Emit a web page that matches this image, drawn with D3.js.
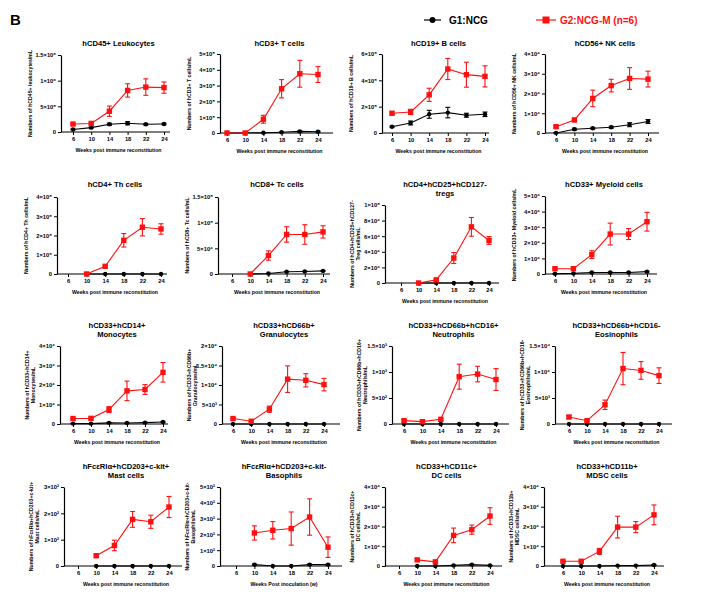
<!DOCTYPE html>
<html>
<head>
<meta charset="utf-8">
<script src="https://cdn.jsdelivr.net/npm/d3@7"></script>
<style>
  body { margin: 0; background: #fff; }
  text { font-family: "Liberation Sans", Arial, sans-serif; }
</style>
</head>
<body>
<div id="chart"></div>
<script>
var weeks = [6, 10, 14, 18, 22, 24];

var titles = [
  ["hCD45+ Leukocytes"], ["hCD3+ T cells"], ["hCD19+ B cells"], ["hCD56+ NK cells"],
  ["hCD4+ Th cells"], ["hCD8+ Tc cells"], ["hCD4+hCD25+hCD127-", "tregs"], ["hCD33+ Myeloid cells"],
  ["hCD33+hCD14+", "Monocytes"], ["hCD33+hCD66b+", "Granulocytes"], ["hCD33+hCD66b+hCD16+", "Neutrophils"], ["hCD33+hCD66b+hCD16-", "Eosinophils"],
  ["hFcεRIα+hCD203+c-kit+", "Mast cells"], ["hFcεRIα+hCD203+c-kit-", "Basophils"], ["hCD33+hCD11c+", "DC cells"], ["hCD33+hCD11b+", "MDSC cells"]
];

var yTitles = [
  ["Numbers of hCD45+ leukocytes/mL"], ["Numbers of hCD3+ T cells/mL"], ["Numbers of hCD19+ B cells/mL"], ["Numbers of hCD56+ NK cells/mL"],
  ["Numbers of hCD4+ Th cells/mL"], ["Numbers of hCD8+ Tc cells/mL"], ["Numbers of hCD4+hCD25+hCD127-", "Treg cells/mL"], ["Numbers of hCD33+ Myeloid cells/mL"],
  ["Numbers of hCD33+hCD14+", "Monocytes/mL"], ["Numbers of hCD33+hCD66b+", "Granulocytes/mL"], ["Numbers of hCD33+hCD66b+hCD16+", "Neutrophils/mL"], ["Numbers of hCD33+hCD66b+hCD16-", "Eosinophils/mL"],
  ["Numbers of hFcεRIα+hCD203+c-kit+", "Mast cells/mL"], ["Numbers of hFcεRIα+hCD203+c-kit-", "Basophils/mL"], ["Numbers of hCD33+hCD11c+", "DC cells/mL"], ["Numbers of hCD33+hCD11b+", "MDSC cells/mL"]
];

var xTitles = [
  "Weeks post immune reconstitution", "Weeks post immune reconstitution", "Weeks post immune reconstitution", "Weeks post immune reconstitution",
  "Weeks post immune reconstitution", "Weeks post immune reconstitution", "Weeks post immune reconstitution", "Weeks post immune reconstitution",
  "Weeks post immune reconstitution", "Weeks post immune reconstitution", "Weeks post immune reconstitution", "Weeks post immune reconstitution",
  "Weeks post immune reconstitution", "Weeks Post inoculation (w)", "Weeks post immune reconstitution", "Weeks post immune reconstitution"
];

var yMax  = [1.5e6, 5e5, 6e5, 4e4, 4e5, 1.5e5, 1e5, 5e4, 4e4, 2e4, 1.5e3, 1.5e4, 3e2, 5e2, 4e4, 4e4];
var yStep = [5e5, 1e5, 2e5, 1e4, 1e5, 5e4, 2e4, 1e4, 1e4, 5e3, 5e2, 5e3, 1e2, 1e2, 1e4, 1e4];

// G1:NCG (black)
var g1Mean = [
  [5e4, 8.5e4, 1.5e5, 1.7e5, 1.5e5, 1.55e5],
  [0, 0, 2e3, 5e3, 1e4, 8e3],
  [4.8e4, 7.6e4, 1.42e5, 1.55e5, 1.35e5, 1.42e5],
  [0, 1900, 2400, 2900, 4200, 5800],
  [null, 0, 0, 0, 0, 0],
  [null, 0, 1000, 4500, 5000, 6000],
  [null, 0, 0, 0, 0, 0],
  [200, 400, 1000, 1000, 1000, 1500],
  [200, 200, 600, 500, 700, 1000],
  [0, 0, 0, 0, 0, 0],
  [0, 0, 0, 0, 0, 0],
  [0, 0, 0, 0, 0, 0],
  [null, 0, 0, 0, 0, 0],
  [null, 9, 0, 0, 9, 9],
  [null, 0, 0, 300, 700, 300],
  [0, 0, 0, 200, 200, 500]
];
var g1Err = [
  [1e4, 1e4, 2e4, 3e4, 1.5e4, 1.5e4],
  [0, 0, 1e3, 2e3, 3e3, 3e3],
  [5e3, 1.5e4, 3e4, 4e4, 1.5e4, 1.7e4],
  [200, 500, 400, 500, 1000, 1000],
  [null, 0, 0, 0, 0, 0],
  [null, 0, 300, 500, 500, 500],
  [null, 0, 0, 0, 0, 0],
  [100, 100, 200, 200, 200, 300],
  [100, 100, 200, 200, 200, 300],
  [0, 0, 0, 0, 0, 0],
  [0, 0, 0, 0, 0, 0],
  [0, 0, 0, 0, 0, 0],
  [null, 0, 0, 0, 0, 0],
  [null, 3, 0, 0, 3, 3],
  [null, 0, 0, 100, 200, 100],
  [0, 0, 0, 100, 100, 200]
];

// G2:NCG-M (n=6) (red)
var g2Mean = [
  [1.55e5, 1.67e5, 4.05e5, 8.1e5, 8.75e5, 8.65e5],
  [0, 0, 8.7e4, 2.8e5, 3.75e5, 3.7e5],
  [1.5e5, 1.6e5, 2.9e5, 4.86e5, 4.43e5, 4.3e5],
  [3200, 6600, 17500, 24000, 27600, 27300],
  [null, 0, 4e4, 1.75e5, 2.43e5, 2.34e5],
  [null, 0, 3.6e4, 7.7e4, 7.7e4, 8.2e4],
  [null, 0, 4e3, 3.2e4, 7.2e4, 5.45e4],
  [3400, 3400, 12400, 25600, 25600, 33500],
  [2800, 2900, 7400, 17000, 17700, 26500],
  [1400, 700, 3800, 11500, 11200, 10100],
  [64, 45, 90, 910, 960, 855],
  [1340, 640, 3700, 10660, 10300, 9300],
  [null, 39, 78, 177, 168, 224],
  [null, 209, 226, 237, 310, 119],
  [null, 3100, 2100, 15500, 18400, 25300],
  [2400, 2400, 7400, 19700, 19700, 25900]
];
var g2Err = [
  [1.5e4, 1.5e4, 1e5, 1.3e5, 1.6e5, 1.1e5],
  [0, 0, 2.5e4, 5.8e4, 8.5e4, 5e4],
  [1e4, 2e4, 5e4, 8e4, 9.5e4, 8e4],
  [500, 800, 4200, 3200, 5500, 4000],
  [null, 0, 5e3, 3.5e4, 4.5e4, 2.7e4],
  [null, 0, 9e3, 1.5e4, 1.9e4, 1.2e4],
  [null, 0, 1e3, 7e3, 1.2e4, 5e3],
  [500, 500, 2500, 7000, 3500, 6000],
  [300, 300, 1500, 5000, 2500, 5000],
  [200, 200, 800, 3400, 1700, 1600],
  [20, 15, 15, 240, 150, 210],
  [300, 150, 900, 3100, 1700, 1500],
  [null, 5, 20, 30, 25, 40],
  [null, 45, 55, 105, 115, 65],
  [null, 500, 300, 3700, 2300, 4200],
  [200, 200, 1500, 5500, 2800, 5000]
];

// panel frame: [y axis x, x axis end, x of first week, x of last week, y of top tick, y of zero]
var frames = [
  [61, 170, 73, 164, 55, 132], [220, 333, 227, 318, 54, 133], [382, 489, 392, 485, 54, 133], [545, 659, 556, 648, 54, 133],
  [57, 167, 68, 161, 197, 274], [218, 330, 232, 323, 197, 274], [385, 499, 401, 489, 205, 283], [545, 657, 555, 647, 196, 274],
  [60, 168, 73, 163, 346, 424], [222, 340, 233, 324, 346, 424], [392, 509, 404, 496, 346, 424], [555, 672, 569, 659, 346, 424],
  [64, 182, 78, 169, 487, 566], [220, 342, 236, 328, 487, 566], [385, 502, 399, 490, 487, 566], [544, 664, 563, 654, 487, 566]
];
var titleY = [43, 184, 325, 466];

var RED = "#ff1010";

var svg = d3.select("#chart").append("svg")
  .attr("width", 704)
  .attr("height", 605);

svg.append("text")
  .attr("x", 10).attr("y", 25)
  .attr("font-size", 15).attr("font-weight", "bold")
  .text("B");

// legend
var leg = svg.append("g");
leg.append("line").attr("x1", 424).attr("x2", 441).attr("y1", 20).attr("y2", 20)
  .attr("stroke", "#000").attr("stroke-width", 1.2);
leg.append("circle").attr("cx", 432.5).attr("cy", 20).attr("r", 3).attr("fill", "#000");
leg.append("text").attr("x", 449).attr("y", 23.5).attr("font-size", 10).attr("font-weight", "bold")
  .text("G1:NCG");
leg.append("line").attr("x1", 536).attr("x2", 556).attr("y1", 20).attr("y2", 20)
  .attr("stroke", RED).attr("stroke-width", 1.2);
leg.append("rect").attr("x", 542.5).attr("y", 16.5).attr("width", 7).attr("height", 7).attr("fill", RED);
leg.append("text").attr("x", 560).attr("y", 23.5).attr("font-size", 10).attr("font-weight", "bold")
  .attr("fill", RED).text("G2:NCG-M (n=6)");

var sup = {"0": "⁰", "1": "¹", "2": "²", "3": "³", "4": "⁴", "5": "⁵", "6": "⁶", "7": "⁷", "8": "⁸", "9": "⁹"};
function fmt(v) {
  if (v === 0) return "0";
  var e = Math.floor(Math.log10(v) + 1e-9);
  var m = +(v / Math.pow(10, e)).toFixed(1);
  return m + "×10" + String(e).split("").map(function(c){ return sup[c]; }).join("");
}

frames.forEach(function(f, i) {
  var g = svg.append("g");
  var row = Math.floor(i / 4);

  // weeks are plotted as evenly spaced categories
  var x = d3.scalePoint().domain(weeks).range([f[2], f[3]]);
  var y = d3.scaleLinear().domain([0, yMax[i]]).range([f[5], f[4]]);

  // title
  var cx = (f[0] + f[1]) / 2 + 3;
  var t = g.append("text")
    .attr("x", cx).attr("y", titleY[row] + 2.5)
    .attr("text-anchor", "middle")
    .attr("font-size", 7.6).attr("font-weight", "bold");
  titles[i].forEach(function(s, k) {
    t.append("tspan").attr("x", cx).attr("dy", k === 0 ? 0 : 9).text(s);
  });

  // axes
  var ya = g.append("g")
    .attr("transform", "translate(" + f[0] + ",0)")
    .call(d3.axisLeft(y)
      .tickValues(d3.range(0, yMax[i] + yStep[i] / 2, yStep[i]))
      .tickFormat(fmt).tickSizeInner(3).tickSizeOuter(0).tickPadding(2));
  var xa = g.append("g")
    .attr("transform", "translate(0," + f[5] + ")")
    .call(d3.axisBottom(x).tickFormat(d3.format("d"))
      .tickSizeInner(3).tickSizeOuter(0).tickPadding(2));
  xa.select(".domain").attr("d", "M" + f[0] + ",0H" + f[1]);
  [ya, xa].forEach(function(a) {
    a.select(".domain").attr("stroke-width", 1.2);
    a.selectAll(".tick line").attr("stroke-width", 1);
    a.selectAll("text").attr("font-size", 5.8).attr("font-weight", "bold")
      .attr("font-family", "'Liberation Sans', Arial, sans-serif");
  });

  // axis titles
  g.append("text")
    .attr("x", (f[0] + f[1]) / 2 + 3).attr("y", f[5] + 20)
    .attr("text-anchor", "middle")
    .attr("font-size", 5.2).attr("font-weight", "bold")
    .text(xTitles[i]);

  var cy = (f[4] + f[5]) / 2;
  var lines = yTitles[i];
  var yt = g.append("text")
    .attr("transform", "translate(" + (f[0] - (lines.length > 1 ? 31 : 29)) + "," + cy + ") rotate(-90)")
    .attr("text-anchor", "middle")
    .attr("font-size", 5.2).attr("font-weight", "bold");
  lines.forEach(function(s, k) {
    yt.append("tspan").attr("x", 0).attr("dy", k === 0 ? 0 : 5.6).text(s);
  });

  // series
  var series = [
    {mean: g1Mean[i], err: g1Err[i], color: "#000", shape: "circle"},
    {mean: g2Mean[i], err: g2Err[i], color: RED, shape: "square"}
  ];
  series.forEach(function(s) {
    var pts = weeks.map(function(w, k) { return {w: w, v: s.mean[k], e: s.err[k]}; })
      .filter(function(p) { return p.v !== null; });

    var line = d3.line().x(function(p) { return x(p.w); }).y(function(p) { return y(p.v); });
    g.append("path").datum(pts)
      .attr("d", line).attr("fill", "none")
      .attr("stroke", s.color).attr("stroke-width", 1.1);

    var eb = g.append("g").selectAll("g").data(pts.filter(function(p) { return p.e > 0; }))
      .enter().append("g")
      .attr("stroke", s.color).attr("stroke-width", 1.1);
    eb.append("line")
      .attr("x1", function(p) { return x(p.w); }).attr("x2", function(p) { return x(p.w); })
      .attr("y1", function(p) { return y(p.v + p.e); }).attr("y2", function(p) { return y(Math.max(0, p.v - p.e)); });
    eb.append("line")
      .attr("x1", function(p) { return x(p.w) - 2.5; }).attr("x2", function(p) { return x(p.w) + 2.5; })
      .attr("y1", function(p) { return y(p.v + p.e); }).attr("y2", function(p) { return y(p.v + p.e); });
    eb.append("line")
      .attr("x1", function(p) { return x(p.w) - 2.5; }).attr("x2", function(p) { return x(p.w) + 2.5; })
      .attr("y1", function(p) { return y(Math.max(0, p.v - p.e)); }).attr("y2", function(p) { return y(Math.max(0, p.v - p.e)); });

    if (s.shape === "circle") {
      g.append("g").selectAll("circle").data(pts).enter().append("circle")
        .attr("cx", function(p) { return x(p.w); })
        .attr("cy", function(p) { return y(p.v); })
        .attr("r", 2.2).attr("fill", s.color);
    } else {
      g.append("g").selectAll("rect").data(pts).enter().append("rect")
        .attr("x", function(p) { return x(p.w) - 2.7; })
        .attr("y", function(p) { return y(p.v) - 2.7; })
        .attr("width", 5.4).attr("height", 5.4).attr("fill", s.color);
    }
  });
});
</script>
</body>
</html>
